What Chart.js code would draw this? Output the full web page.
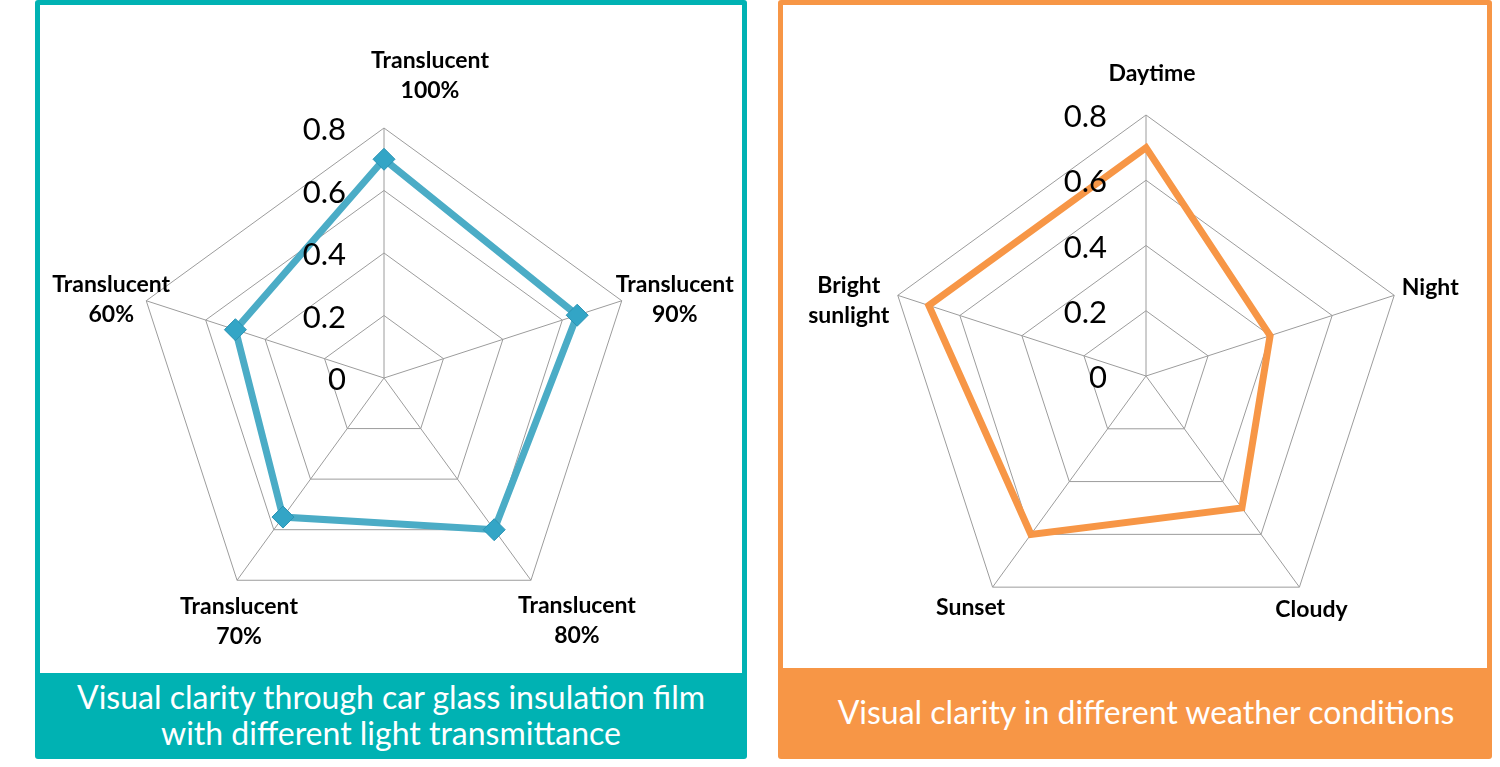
<!DOCTYPE html>
<html lang="en">
<head>
  <meta charset="UTF-8" />
  <title>Visual clarity radar charts</title>
  <script src="https://cdn.jsdelivr.net/npm/chart.js"></script>
  <style>
    body {
      margin: 0;
      background: #fff;
      font-family: Lato, 'Open Sans', sans-serif;
    }
    .page {
      position: relative;
      width: 1500px;
      height: 767px;
      overflow: hidden;
    }
    .panel {
      position: absolute;
      top: 0;
      height: 759px;
      border-radius: 3px;
    }
    .panel .inner {
      position: absolute;
      top: 5px;
      left: 5px;
      right: 5px;
      background: #fff;
    }
    .panel canvas {
      position: absolute;
      top: 0;
      left: 0;
    }
    .caption {
      position: absolute;
      left: 0;
      right: 0;
      color: #fff;
      text-align: center;
      font-size: 32px;
      line-height: 36px;
      white-space: nowrap;
    }
    #leftPanel { left: 35px; width: 712px; background: #00b2b3; }
    #leftPanel .inner { height: 668px; }
    #leftPanel .caption { top: 679px; }
    #rightPanel { left: 778px; width: 714px; background: #f79646; }
    #rightPanel .inner { height: 663px; }
    #rightPanel .caption { top: 694px; padding-left: 22px; }
  </style>
</head>
<body>
  <div class="page">
    <div class="panel" id="leftPanel">
      <div class="inner"><canvas id="filmChart" width="702" height="668"></canvas></div>
      <div class="caption">Visual clarity through car glass insulation film<br>with different light transmittance</div>
    </div>
    <div class="panel" id="rightPanel">
      <div class="inner"><canvas id="weatherChart" width="704" height="663"></canvas></div>
      <div class="caption">Visual clarity in different weather conditions</div>
    </div>
  </div>

  <script>
    // data
    const filmLabels = [['Translucent', '100%'], ['Translucent', '90%'], ['Translucent', '80%'], ['Translucent', '70%'], ['Translucent', '60%']];
    const filmValues = [0.70, 0.65, 0.60, 0.55, 0.50];

    const weatherLabels = ['Daytime', 'Night', 'Cloudy', 'Sunset', ['Bright', 'sunlight']];
    const weatherValues = [0.70, 0.40, 0.50, 0.60, 0.70];

    const tickValues = [0, 0.2, 0.4, 0.6, 0.8];
    const tickLabels = ['0', '0.2', '0.4', '0.6', '0.8'];

    // Excel-style labels: ticks left of the axis, point labels nudged
    const excelLabels = {
      id: 'excelLabels',
      afterDraw(chart, args, opts) {
        const r = chart.scales.r;
        const ctx = chart.ctx;
        ctx.save();
        ctx.fillStyle = '#000';
        ctx.font = '31px Lato';
        ctx.textAlign = 'right';
        ctx.textBaseline = 'middle';
        tickValues.forEach((v, i) => {
          const y = r.yCenter - r.getDistanceFromCenterForValue(v);
          ctx.fillText(tickLabels[i], r.xCenter - opts.tickGap, y + 2);
        });
        ctx.font = 'bold 23px Lato';
        ctx.textAlign = 'center';
        chart.data.labels.forEach((lab, i) => {
          const p = r.getPointPosition(i, r.drawingArea);
          const lines = Array.isArray(lab) ? lab : [lab];
          const cx = p.x + opts.offsets[i][0];
          const cy = p.y + opts.offsets[i][1];
          lines.forEach((ln, k) => {
            ctx.fillText(ln, cx, cy + (k - (lines.length - 1) / 2) * 30);
          });
        });
        ctx.restore();
      }
    };

    function radarScale() {
      return {
        min: 0,
        max: 0.8,
        ticks: { display: false, stepSize: 0.2 },
        grid: { color: '#9c9c9c', lineWidth: 1 },
        angleLines: { color: '#9c9c9c', lineWidth: 1 },
        pointLabels: { display: false }
      };
    }

    Chart.defaults.animation = false;

    new Chart(document.getElementById('filmChart'), {
      type: 'radar',
      data: {
        labels: filmLabels,
        datasets: [{
          data: filmValues,
          fill: false,
          borderColor: '#4bacc6',
          borderWidth: 7,
          borderJoinStyle: 'miter',
          pointStyle: 'rectRot',
          pointRadius: 11,
          pointBackgroundColor: '#33a5c6',
          pointBorderColor: '#2a93b4',
          pointBorderWidth: 1
        }]
      },
      options: {
        responsive: false,
        devicePixelRatio: 1,
        layout: { padding: { left: 94, right: 108, top: 123, bottom: 45 } },
        scales: { r: radarScale() },
        plugins: {
          legend: { display: false },
          tooltip: { enabled: false },
          excelLabels: { tickGap: 38, offsets: [[46, -52], [53, -1], [46, 40], [2, 41], [-35, -1]] }
        }
      },
      plugins: [excelLabels]
    });

    new Chart(document.getElementById('weatherChart'), {
      type: 'radar',
      data: {
        labels: weatherLabels,
        datasets: [{
          data: weatherValues,
          fill: false,
          borderColor: '#f79646',
          borderWidth: 7,
          borderJoinStyle: 'miter',
          pointRadius: 0
        }]
      },
      options: {
        responsive: false,
        devicePixelRatio: 1,
        layout: { padding: { left: 102, right: 80, top: 110, bottom: 31 } },
        scales: { r: radarScale() },
        plugins: {
          legend: { display: false },
          tooltip: { enabled: false },
          excelLabels: { tickGap: 39, offsets: [[6, -41], [36, -8], [12, 22], [-22, 20], [-49, 5]] }
        }
      },
      plugins: [excelLabels]
    });
  </script>
</body>
</html>
